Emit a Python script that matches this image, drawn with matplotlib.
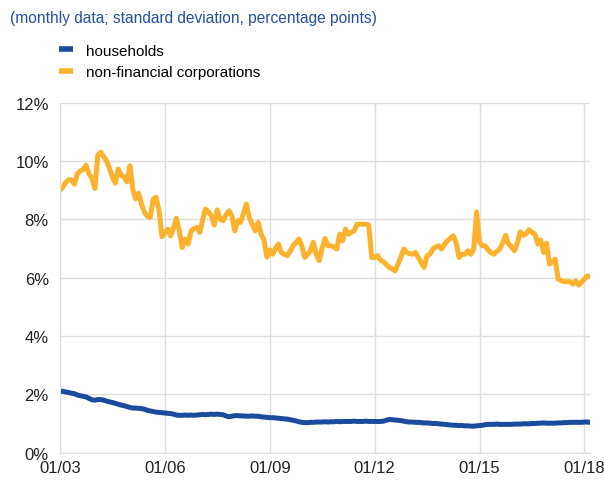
import numpy as np
import pandas as pd
import matplotlib
matplotlib.use('Agg')
from matplotlib import pyplot as plt
import matplotlib.dates as mdates

plt.rcParams['font.family'] = ['Liberation Sans', 'DejaVu Sans']

# monthly data from 01/2003
households = [
    2.11, 2.10, 2.08, 2.06, 2.04, 2.02, 1.98, 1.95, 1.93, 1.91, 1.86, 1.81,
    1.80, 1.82, 1.82, 1.80, 1.77, 1.74, 1.72, 1.69, 1.66, 1.63, 1.61, 1.58,
    1.55, 1.53, 1.53, 1.52, 1.51, 1.49, 1.45, 1.43, 1.41, 1.39, 1.38, 1.37,
    1.36, 1.35, 1.34, 1.32, 1.29, 1.28, 1.28, 1.29, 1.28, 1.29, 1.28, 1.29,
    1.30, 1.31, 1.30, 1.31, 1.32, 1.31, 1.32, 1.31, 1.30, 1.26, 1.23, 1.25,
    1.27, 1.27, 1.26, 1.26, 1.25, 1.25, 1.26, 1.25, 1.25, 1.23, 1.22, 1.21,
    1.20, 1.20, 1.19, 1.18, 1.17, 1.16, 1.15, 1.13, 1.11, 1.09, 1.06, 1.04,
    1.03, 1.03, 1.04, 1.04, 1.05, 1.05, 1.05, 1.06, 1.05, 1.06, 1.06, 1.07,
    1.06, 1.07, 1.07, 1.07, 1.07, 1.08, 1.07, 1.07, 1.07, 1.08, 1.07, 1.07,
    1.07, 1.07, 1.07, 1.08, 1.11, 1.14, 1.13, 1.12, 1.11, 1.10, 1.08, 1.06,
    1.05, 1.05, 1.04, 1.04, 1.03, 1.02, 1.02, 1.01, 1.00, 1.00, 0.99, 0.98,
    0.97, 0.96, 0.95, 0.94, 0.94, 0.93, 0.93, 0.92, 0.92, 0.91, 0.91, 0.92,
    0.93, 0.94, 0.96, 0.97, 0.97, 0.97, 0.98, 0.97, 0.97, 0.97, 0.97, 0.97,
    0.98, 0.98, 0.98, 0.99, 0.99, 0.99, 1.00, 1.00, 1.01, 1.01, 1.02, 1.01,
    1.01, 1.01, 1.01, 1.02, 1.02, 1.03, 1.03, 1.04, 1.04, 1.04, 1.04, 1.04,
    1.05, 1.05, 1.04,
]

corporations = [
    9.00, 9.10, 9.26, 9.35, 9.35, 9.20, 9.55, 9.66, 9.70, 9.85, 9.55, 9.40,
    9.05, 10.20, 10.30, 10.15, 10.00, 9.75, 9.45, 9.24, 9.72, 9.50, 9.45, 9.28,
    9.83, 9.00, 8.70, 8.89, 8.52, 8.25, 8.10, 8.06, 8.69, 8.75, 8.30, 7.40,
    7.55, 7.66, 7.43, 7.70, 8.03, 7.60, 7.03, 7.32, 7.15, 7.60, 7.68, 7.72,
    7.55, 8.00, 8.35, 8.25, 8.12, 7.80, 8.32, 8.00, 7.95, 8.15, 8.29, 8.12,
    7.60, 7.95, 7.89, 8.20, 8.52, 8.06, 7.83, 7.60, 7.89, 7.49, 7.30, 6.70,
    6.95, 6.80, 7.00, 7.15, 6.86, 6.80, 6.75, 6.90, 7.09, 7.20, 7.32, 7.09,
    6.69, 6.80, 6.92, 7.21, 6.80, 6.58, 7.00, 7.34, 7.09, 7.09, 7.05, 6.98,
    7.49, 7.26, 7.66, 7.49, 7.55, 7.60, 7.83, 7.83, 7.83, 7.83, 7.80, 6.69,
    6.69, 6.75, 6.60, 6.55, 6.45, 6.35, 6.30, 6.23, 6.46, 6.70, 6.98, 6.86,
    6.82, 6.80, 6.86, 6.70, 6.52, 6.35, 6.75, 6.80, 6.98, 7.05, 7.09, 6.98,
    7.15, 7.26, 7.35, 7.43, 7.21, 6.69, 6.80, 6.80, 6.92, 6.80, 6.98, 8.25,
    7.21, 7.09, 7.09, 6.95, 6.85, 6.80, 6.90, 6.98, 7.20, 7.45, 7.15, 7.05,
    6.92, 7.20, 7.57, 7.45, 7.50, 7.64, 7.55, 7.49, 7.15, 7.29, 6.86, 7.18,
    6.46, 6.55, 6.63, 5.95, 5.90, 5.86, 5.86, 5.86, 5.78, 5.89, 5.74, 5.84,
    5.95, 6.06, 6.03,
]

tick_years = [2003, 2006, 2009, 2012, 2015, 2018]
y_ticks = [0, 2, 4, 6, 8, 10, 12]

dates_h = pd.date_range('2003-01-01', periods=len(households), freq='MS')
dates_c = pd.date_range('2003-01-01', periods=len(corporations), freq='MS')

blue = '#1c4a9c'
yellow = '#fdb22d'
grid_c = '#dedede'

fig = plt.figure(figsize=(6.04, 4.81), dpi=100)
ax = fig.add_axes([0.0993, 0.0568, 0.8777, 0.728])

ax.plot(dates_h, households, color=blue, lw=3.6, solid_capstyle='round',
        label='households')
ax.plot(dates_c, corporations, color=yellow, lw=3.6, solid_capstyle='round',
        label='non-financial corporations')

ax.set_ylim(0, 12)
ax.set_yticks(y_ticks)
ax.set_yticklabels([f'{v}%' for v in y_ticks])
ax.set_xlim(pd.Timestamp('2003-01-01'), pd.Timestamp('2018-03-01'))
ax.set_xticks([pd.Timestamp(f'{y}-01-01') for y in tick_years])
ax.xaxis.set_major_formatter(mdates.DateFormatter('%m/%y'))

ax.grid(True, color=grid_c, lw=1)
ax.set_axisbelow(True)
for s in ['top', 'right']:
    ax.spines[s].set_visible(False)
for s in ['left', 'bottom']:
    ax.spines[s].set_color(grid_c)
ax.tick_params(length=0, labelsize=12, colors='#222222', pad=5)
ax.tick_params(axis='y', pad=8)

fig.text(0.017, 0.962, '(monthly data; standard deviation, percentage points)',
         color='#2450a0', fontsize=11.2, va='center')

leg = fig.legend(loc='upper left', bbox_to_anchor=(0.097, 0.907), frameon=False,
                 fontsize=11, handlelength=0.95, handletextpad=0.85,
                 labelspacing=0.5, borderaxespad=0, borderpad=0)
for line in leg.get_lines():
    line.set_linewidth(4)
    line.set_solid_capstyle('butt')

fig.savefig('out.png', dpi=100)
